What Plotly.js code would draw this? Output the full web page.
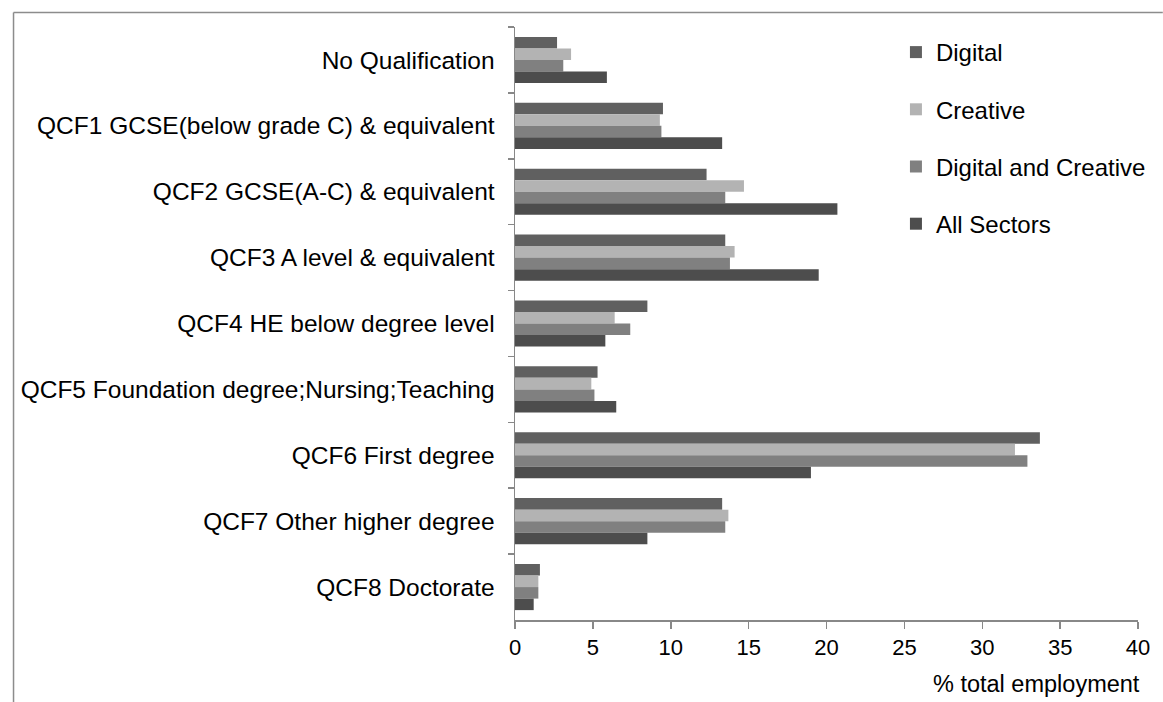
<!DOCTYPE html>
<html>
<head>
<meta charset="utf-8">
<script src="https://cdn.plot.ly/plotly-3.0.1.min.js"></script>
<style>
html,body{margin:0;padding:0;background:#fff;}
#chart{width:1163px;height:702px;}
</style>
</head>
<body>
<div id="chart"></div>
<script>
const categories = [
  "No Qualification",
  "QCF1 GCSE(below grade C) & equivalent",
  "QCF2 GCSE(A-C) & equivalent",
  "QCF3 A level & equivalent",
  "QCF4 HE below degree level",
  "QCF5 Foundation degree;Nursing;Teaching",
  "QCF6 First degree",
  "QCF7 Other higher degree",
  "QCF8 Doctorate"
];
const seriesNames = ["Digital", "Creative", "Digital and Creative", "All Sectors"];
const digital = [2.7, 9.5, 12.3, 13.5, 8.5, 5.3, 33.7, 13.3, 1.6];
const creative = [3.6, 9.3, 14.7, 14.1, 6.4, 4.9, 32.1, 13.7, 1.5];
const digitalCreative = [3.1, 9.4, 13.5, 13.8, 7.4, 5.1, 32.9, 13.5, 1.5];
const allSectors = [5.9, 13.3, 20.7, 19.5, 5.8, 6.5, 19.0, 8.5, 1.2];
const xTicks = [0, 5, 10, 15, 20, 25, 30, 35, 40];
const xTitle = "% total employment";

const colors = ["#606060", "#b3b3b3", "#808080", "#4d4d4d"];
const values = [digital, creative, digitalCreative, allSectors];

const FONT = "Liberation Sans, Arial, sans-serif";

const traces = values.map((v, i) => ({
  type: "bar",
  orientation: "h",
  name: seriesNames[i],
  legendgroup: "g" + i,
  y: categories,
  x: v,
  marker: {color: colors[i], line: {width: 0}},
  hoverinfo: "skip"
}));

// geometry (pixels)
const W = 1163, H = 702;
const mL = 515, mR = 20, mT = 27, mB = 82;
const pw = W - mL - mR, ph = H - mT - mB;
const px = x => (x - mL) / pw;
const py = y => (H - mB - y) / ph;

const layout = {
  width: W, height: H,
  margin: {l: mL, r: mR, t: mT, b: mB, pad: 0},
  paper_bgcolor: "#ffffff",
  plot_bgcolor: "#ffffff",
  font: {family: FONT, color: "#000000", size: 22},
  barmode: "group",
  bargap: 0.3,
  bargroupgap: 0,
  showlegend: true,
  legend: {
    x: px(899), xanchor: "left",
    y: py(30), yanchor: "top",
    font: {family: FONT, size: 24, color: "#000000"},
    tracegroupgap: 23,
    traceorder: "grouped",
    itemwidth: 30,
    bgcolor: "rgba(0,0,0,0)"
  },
  xaxis: {
    range: [0, 40],
    tickvals: xTicks,
    ticktext: xTicks.map(String),
    showgrid: false,
    zeroline: false,
    showline: true,
    linecolor: "#888888",
    linewidth: 1.5,
    ticks: "outside",
    ticklen: 7,
    tickwidth: 1.5,
    tickcolor: "#888888",
    tickfont: {family: FONT, size: 22, color: "#000000"},
    fixedrange: true
  },
  yaxis: {
    type: "category",
    autorange: "reversed",
    showgrid: false,
    zeroline: false,
    showline: true,
    linecolor: "#888888",
    linewidth: 1.5,
    ticks: "outside",
    tickson: "boundaries",
    ticklen: 6,
    tickwidth: 1.5,
    tickcolor: "#888888",
    ticklabelstandoff: 14,
    tickfont: {family: FONT, size: 24.5, color: "#000000"},
    fixedrange: true
  },
  annotations: [{
    text: xTitle,
    xref: "paper", yref: "paper",
    x: 1, xanchor: "right", xshift: 4,
    y: py(684), yanchor: "middle",
    showarrow: false,
    font: {family: FONT, size: 23.5, color: "#000000"}
  }],
  shapes: [
    {type: "line", xref: "paper", yref: "paper", x0: px(9.5), x1: px(9.5), y0: py(H + 5), y1: py(12.5), line: {color: "#8c8c8c", width: 1.5}},
    {type: "line", xref: "paper", yref: "paper", x0: px(9.5), x1: px(W + 5), y0: py(12.5), y1: py(12.5), line: {color: "#8c8c8c", width: 1.5}}
  ]
};

Plotly.newPlot("chart", traces, layout, {displayModeBar: false, staticPlot: true});
</script>
</body>
</html>
